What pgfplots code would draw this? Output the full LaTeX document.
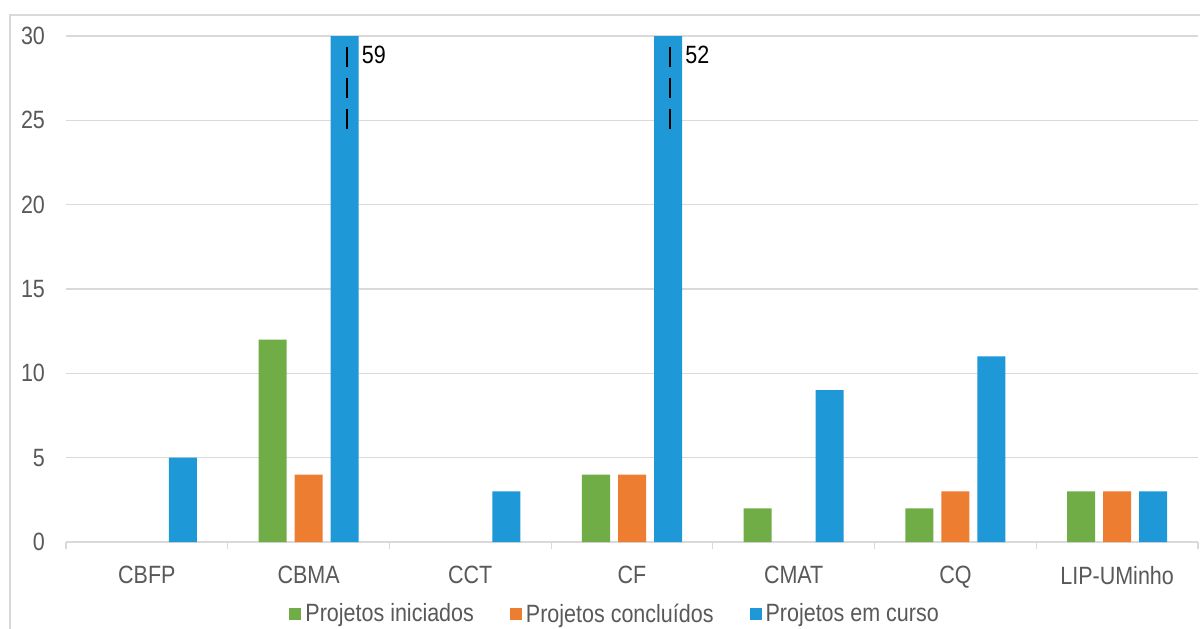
\documentclass[border=0pt]{standalone}
\usepackage{fontspec}
\setmainfont{Liberation Sans}[FakeStretch=0.86]
\usepackage{pgfplots}
\pgfplotsset{compat=1.18}
\definecolor{cgreen}{HTML}{70AD47}
\definecolor{corange}{HTML}{ED7D31}
\definecolor{cblue}{HTML}{1E98D7}
\definecolor{cgrid}{HTML}{D9D9D9}
\definecolor{ctext}{HTML}{595959}
\begin{document}
\begin{tikzpicture}[font=\fontsize{12.5}{14}\selectfont]
\useasboundingbox (0,0) rectangle (600pt,314pt);
\fill[white] (0,0) rectangle (600pt,314pt);
\draw[cgrid, line width=0.6pt] (5pt,-2pt) -- (5pt,306.5pt) -- (602pt,306.5pt);
\begin{axis}[
  at={(33pt,43pt)}, anchor=south west,
  scale only axis, width=566pt, height=253pt,
  ybar=4pt, bar width=14pt,
  xmin=-0.5, xmax=6.5, ymin=0, ymax=30,
  xtick={0,...,6},
  xticklabels={CBFP,CBMA,CCT,CF,CMAT,CQ,LIP-UMinho},
  extra x ticks={-0.5,0.5,...,6.5},
  extra x tick labels={},
  extra x tick style={major tick length=3.5pt, tick align=outside, xmajorgrids=false,
     major tick style={cgrid, line width=0.6pt}},
  ytick={0,5,...,30},
  major tick length=0pt,
  tick pos=left,
  axis lines=left,
  x axis line style={-, cgrid, line width=0.6pt},
  y axis line style={draw=none},
  ymajorgrids, grid style={cgrid, line width=0.6pt},
  tick label style={text=ctext},
  /pgf/number format/assume math mode=true,
  yticklabel style={xshift=-7pt},
  xticklabel style={yshift=-8.5pt},
  legend columns=3,
  legend style={draw=none, fill=none, at={(0.486,-0.143)}, anchor=center,
     text=ctext, /tikz/every even column/.append style={column sep=16pt}},
  legend image code/.code={\fill[#1] (0pt,-3pt) rectangle (6pt,3pt);},
  clip=true,
]
\addplot[fill=cgreen, draw=none] coordinates {(1,12) (3,4) (4,2) (5,2) (6,3)};
\addplot[fill=corange, draw=none] coordinates {(1,4) (3,4) (5,3) (6,3)};
\addplot[fill=cblue, draw=none] coordinates {(0,5) (1,59) (2,3) (3,52) (4,9) (5,11) (6,3)};
\legend{Projetos iniciados, Projetos concluídos, Projetos em curso}
\draw[black, line width=1pt, dash pattern=on 10pt off 5.5pt] ([xshift=19pt]axis cs:1,29.35) -- ([xshift=19pt]axis cs:1,24.3);
\draw[black, line width=1pt, dash pattern=on 10pt off 5.5pt] ([xshift=19pt]axis cs:3,29.35) -- ([xshift=19pt]axis cs:3,24.3);
\node[anchor=west, inner sep=0pt, text=black] at ([xshift=26.5pt]axis cs:1,28.9) {59};
\node[anchor=west, inner sep=0pt, text=black] at ([xshift=26.5pt]axis cs:3,28.9) {52};
\end{axis}
\end{tikzpicture}
\end{document}
